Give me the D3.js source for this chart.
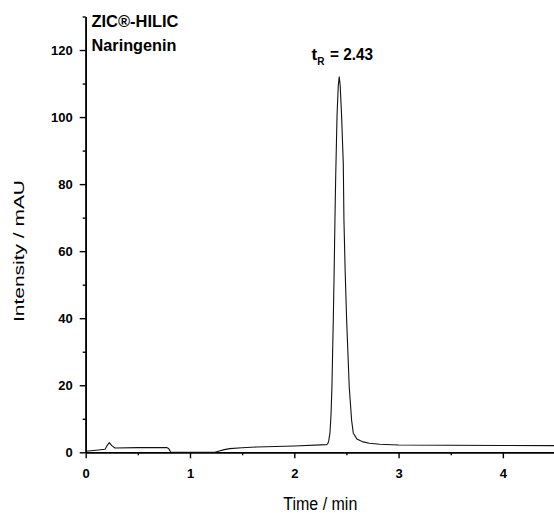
<!DOCTYPE html>
<html>
<head>
<meta charset="utf-8">
<script src="https://cdn.jsdelivr.net/npm/d3@7"></script>
<style>
  html, body { margin: 0; padding: 0; background: #fff; }
  svg { display: block; }
  text { font-family: "Liberation Sans", Arial, sans-serif; }
</style>
</head>
<body>
<svg id="chart" width="554" height="513"></svg>
<script>
// ---- data ----
const time = [0, 0.1, 0.186, 0.205, 0.226, 0.25, 0.28, 0.5, 0.776, 0.795, 0.808, 0.815, 1.0, 1.24, 1.28, 1.33, 1.38, 1.5, 1.64, 2.0, 2.31, 2.322, 2.33, 2.342, 2.352, 2.361, 2.374, 2.383, 2.39, 2.397, 2.41, 2.422, 2.431, 2.44, 2.453, 2.47, 2.476, 2.488, 2.502, 2.527, 2.55, 2.566, 2.6, 2.63, 2.66, 2.72, 2.82, 3.0, 3.5, 4.0, 4.5];
const intensity = [0.3, 0.6, 0.9, 2.0, 2.9, 2.0, 1.3, 1.4, 1.4, 1.1, 0.5, 0, 0, 0, 0.4, 0.8, 1.1, 1.35, 1.6, 1.9, 2.3, 2.6, 3.4, 5.7, 11.0, 19.5, 39.5, 55.0, 69.5, 82.0, 100.5, 109.5, 112, 109.5, 101.0, 86.0, 69.5, 54.0, 39.5, 19.5, 9.5, 5.7, 4.0, 3.5, 3.1, 2.7, 2.4, 2.2, 2.1, 2.05, 2.0];
const xTicks = [0, 1, 2, 3, 4];
const xMinorTicks = [0.5, 1.5, 2.5, 3.5];
const yTicks = [0, 20, 40, 60, 80, 100, 120];
const yMinorTicks = [10, 30, 50, 70, 90, 110, 130];
const titleLines = ["ZIC®-HILIC", "Naringenin"];
const peakLabel = { main: "t", sub: "R", rest: "= 2.43" };
const xTitle = "Time / min";
const yTitle = "Intensity /  mAU";

// ---- layout ----
const svg = d3.select("#chart");
const x = d3.scaleLinear().domain([0, 4.5]).range([85.7, 555]);
const y = d3.scaleLinear().domain([0, 130]).range([452.3, 16.5]);

const tickFont = "bold 13px 'Liberation Sans', Arial, sans-serif";

// x axis
svg.append("g").attr("transform", `translate(0,${y(0)})`)
  .call(d3.axisBottom(x).tickValues(xTicks).tickFormat(d3.format("d")).tickSize(6).tickSizeOuter(0).tickPadding(10));
svg.append("g").attr("transform", `translate(0,${y(0)})`)
  .call(d3.axisBottom(x).tickValues(xMinorTicks).tickFormat("").tickSize(3).tickSizeOuter(0));

// y axis
svg.append("g").attr("transform", `translate(${x(0)},0)`)
  .call(d3.axisLeft(y).tickValues(yTicks).tickFormat(d3.format("d")).tickSize(6).tickSizeOuter(0).tickPadding(7));
svg.append("g").attr("transform", `translate(${x(0)},0)`)
  .call(d3.axisLeft(y).tickValues(yMinorTicks).tickFormat("").tickSize(3).tickSizeOuter(0));

svg.selectAll(".domain").attr("stroke", "#000").attr("stroke-width", 1.6);
svg.selectAll(".tick line").attr("stroke", "#000").attr("stroke-width", 1.4);
svg.selectAll(".tick text").style("font", tickFont).attr("fill", "#000");

// chromatogram line
const line = d3.line()
  .x((d, i) => x(time[i]))
  .y((d, i) => y(intensity[i]))
  .curve(d3.curveLinear);
svg.append("path")
  .datum(intensity)
  .attr("d", line)
  .attr("fill", "none")
  .attr("stroke", "#111")
  .attr("stroke-width", 1.1)
  .attr("stroke-linejoin", "round");

// title lines
svg.selectAll(".title").data(titleLines).enter().append("text")
  .attr("class", "title")
  .attr("x", 91.5)
  .attr("y", (d, i) => 27.3 + i * 23.5)
  .attr("textLength", (d, i) => i === 0 ? 87 : 85)
  .attr("lengthAdjust", "spacingAndGlyphs")
  .style("font", "bold 17px 'Liberation Sans', Arial, sans-serif")
  .text(d => d);

// peak label
const pl = svg.append("text")
  .attr("x", 311.5).attr("y", 60)
  .style("font", "bold 17px 'Liberation Sans', Arial, sans-serif");
pl.append("tspan").text(peakLabel.main);
pl.append("tspan").attr("dy", 5).style("font-size", "10px").text(peakLabel.sub);
svg.append("text")
  .attr("x", 330).attr("y", 60)
  .attr("textLength", 43).attr("lengthAdjust", "spacingAndGlyphs")
  .style("font", "bold 17px 'Liberation Sans', Arial, sans-serif")
  .text(peakLabel.rest);

// axis titles
svg.append("text")
  .attr("x", 320.3).attr("y", 509.5)
  .attr("text-anchor", "middle")
  .attr("textLength", 74).attr("lengthAdjust", "spacingAndGlyphs")
  .style("font", "18px 'Liberation Sans', Arial, sans-serif")
  .text(xTitle);

svg.append("text")
  .attr("transform", `translate(24,251) rotate(-90)`)
  .attr("text-anchor", "middle")
  .attr("textLength", 142).attr("lengthAdjust", "spacingAndGlyphs")
  .style("font", "15px 'Liberation Sans', Arial, sans-serif")
  .text(yTitle);
</script>
</body>
</html>
